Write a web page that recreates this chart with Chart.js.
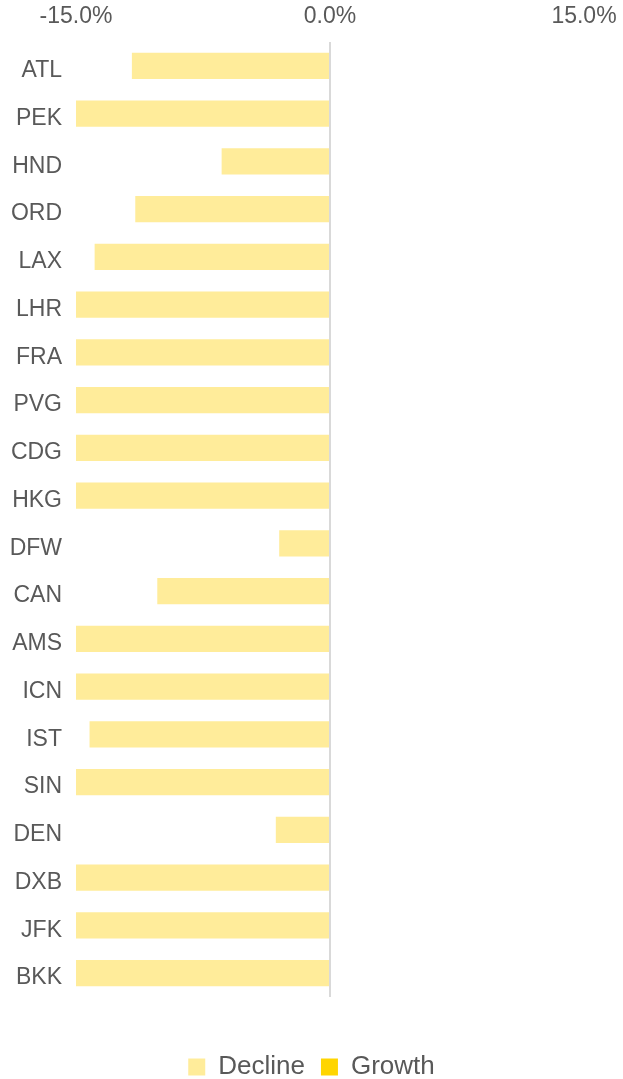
<!DOCTYPE html>
<html>
<head>
<meta charset="utf-8">
<script src="https://cdn.jsdelivr.net/npm/chart.js@4"></script>
<style>
  html, body { margin: 0; padding: 0; background: #ffffff; }
  #wrap { position: relative; width: 623px; height: 1079px; }
</style>
</head>
<body>
<div id="wrap"><canvas id="chart"></canvas></div>
<script>
// airports, top to bottom
const airports = ['ATL', 'PEK', 'HND', 'ORD', 'LAX', 'LHR', 'FRA', 'PVG', 'CDG', 'HKG',
                  'DFW', 'CAN', 'AMS', 'ICN', 'IST', 'SIN', 'DEN', 'DXB', 'JFK', 'BKK'];
// change in % (bars at the left edge run past -15%)
const decline = [-11.7, -15, -6.4, -11.5, -13.9, -15, -15, -15, -15, -15,
                 -3.0, -10.2, -15, -15, -14.2, -15, -3.2, -15, -15, -15];
const growth = [0, 0, 0, 0, 0, 0, 0, 0, 0, 0, 0, 0, 0, 0, 0, 0, 0, 0, 0, 0];
const xTicks = [-15, 0, 15];

const textColor = '#595959';
const family = '"Liberation Sans", Arial, sans-serif';

new Chart(document.getElementById('chart'), {
    type: 'bar',
    data: {
        labels: airports,
        datasets: [
            {
                label: 'Decline',
                data: decline,
                backgroundColor: '#FFEC9A',
                barPercentage: 0.545,
                categoryPercentage: 1
            },
            {
                label: 'Growth',
                data: growth,
                backgroundColor: '#FFD500',
                barPercentage: 0.545,
                categoryPercentage: 1
            }
        ]
    },
    options: {
        indexAxis: 'y',
        responsive: true,
        maintainAspectRatio: false,
        animation: false,
        layout: { padding: { left: 0, right: 0, top: 0, bottom: -11 } },
        plugins: {
            legend: {
                position: 'bottom',
                labels: {
                    color: textColor,
                    font: { family: family, size: 26 },
                    boxWidth: 17,
                    boxHeight: 17,
                    padding: 16
                }
            },
            tooltip: { enabled: false }
        },
        scales: {
            x: {
                position: 'top',
                stacked: true,
                min: -15,
                max: 15,
                afterBuildTicks: (axis) => {
                    axis.ticks = xTicks.map(v => ({ value: v }));
                },
                afterFit: (axis) => {
                    axis.height = 42;
                    // the side strips already leave room for the end labels
                    axis.paddingLeft = 0;
                    axis.paddingRight = 0;
                },
                ticks: {
                    color: textColor,
                    font: { family: family, size: 23 },
                    padding: 12,
                    maxRotation: 0,
                    callback: (v) => v.toFixed(1) + '%'
                },
                grid: {
                    drawTicks: false,
                    lineWidth: 2,
                    color: (ctx) => ctx.tick && ctx.tick.value === 0 ? '#D9D9D9' : 'rgba(0,0,0,0)'
                },
                border: { display: false }
            },
            // empty strip between the plot and the legend
            gap: {
                axis: 'x',
                position: 'bottom',
                afterFit: (axis) => { axis.height = 41; },
                ticks: { display: false },
                grid: { display: false, drawTicks: false },
                border: { display: false }
            },
            y: {
                stacked: true,
                afterFit: (axis) => { axis.width = 76; },
                ticks: {
                    color: textColor,
                    font: { family: family, size: 23 },
                    padding: 14,
                    labelOffset: 5
                },
                grid: { display: false, drawTicks: false },
                border: { display: false }
            },
            // empty strip on the right
            side: {
                axis: 'y',
                type: 'category',
                position: 'right',
                afterFit: (axis) => { axis.width = 39; },
                ticks: { display: false },
                grid: { display: false, drawTicks: false },
                border: { display: false }
            }
        }
    }
});
</script>
</body>
</html>
